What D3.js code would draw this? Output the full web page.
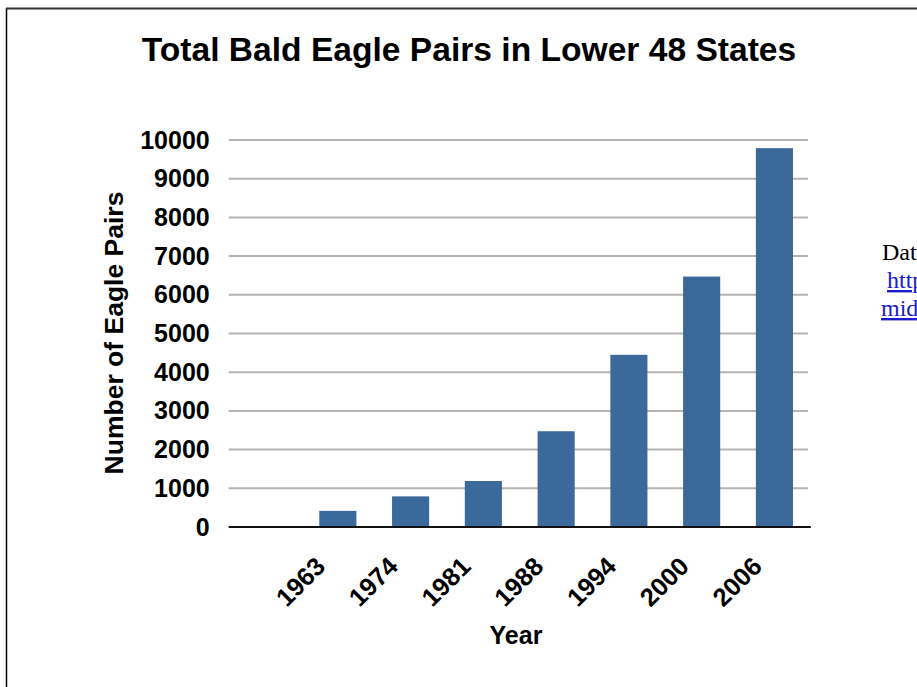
<!DOCTYPE html>
<html>
<head>
<meta charset="utf-8">
<script src="https://cdn.jsdelivr.net/npm/d3@7"></script>
<style>
  html, body { margin: 0; padding: 0; background: #fff; overflow: hidden; }
  svg { display: block; }
</style>
</head>
<body>
<svg id="chart" width="917" height="687"></svg>
<script>
// ---- data ----
// the first slot of the original chart is left empty
var years = ["", "1963", "1974", "1981", "1988", "1994", "2000", "2006"];
var pairs = [null, 417, 791, 1188, 2475, 4449, 6471, 9789];
var yTicks = [0, 1000, 2000, 3000, 4000, 5000, 6000, 7000, 8000, 9000, 10000];
var sourceLines = ["Data from:", "http://www.fws.gov/", "midwest/eagle/population/"];

var svg = d3.select("#chart");
var SANS = "'Liberation Sans', Arial, Helvetica, sans-serif";
var SERIF = "'Liberation Serif', 'Times New Roman', serif";
var BAR = "#3c699b";

// frame of the slide
svg.append("line").attr("x1", 6.5).attr("x2", 6.5).attr("y1", 8).attr("y2", 687)
  .attr("stroke", "#000").attr("stroke-width", 1.5);
svg.append("line").attr("x1", 6).attr("x2", 917).attr("y1", 8.5).attr("y2", 8.5)
  .attr("stroke", "#333").attr("stroke-width", 2);

var M = { left: 228.7, right: 810.8, top: 140, bottom: 527 };

var x = d3.scaleBand().domain(years)
  .range([M.left, M.right])
  .paddingInner(0.49).paddingOuter(0.245);
var y = d3.scaleLinear().domain([0, 10000]).range([M.bottom, M.top]);

// title
svg.append("text")
  .attr("x", 469).attr("y", 61)
  .attr("text-anchor", "middle")
  .attr("font-family", SANS).attr("font-weight", "bold").attr("font-size", 33.6)
  .attr("fill", "#000")
  .text("Total Bald Eagle Pairs in Lower 48 States");

// gridlines
svg.append("g").selectAll("line").data(yTicks.filter(function (d) { return d > 0; }))
  .enter().append("line")
  .attr("x1", M.left).attr("x2", 808)
  .attr("y1", function (d) { return y(d); })
  .attr("y2", function (d) { return y(d); })
  .attr("stroke", "#b5b5b5").attr("stroke-width", 2);

// y axis (labels only)
var yAxis = svg.append("g")
  .attr("transform", "translate(" + M.left + ",0)")
  .call(d3.axisLeft(y).tickValues(yTicks).tickFormat(d3.format("d")).tickSize(0).tickPadding(19));
yAxis.select(".domain").remove();
yAxis.selectAll("text")
  .attr("font-family", SANS).attr("font-weight", "bold").attr("font-size", 25)
  .attr("fill", "#000");

// bars
svg.append("g").selectAll("rect")
  .data(years.map(function (yr, i) { return { year: yr, v: pairs[i] }; })
    .filter(function (d) { return d.v != null; }))
  .enter().append("rect")
  .attr("x", function (d) { return x(d.year); })
  .attr("width", x.bandwidth())
  .attr("y", function (d) { return y(d.v); })
  .attr("height", function (d) { return y(0) - y(d.v); })
  .attr("fill", BAR);

// baseline
svg.append("line")
  .attr("x1", M.left).attr("x2", M.right)
  .attr("y1", y(0)).attr("y2", y(0))
  .attr("stroke", "#111").attr("stroke-width", 2);

// x tick labels, rotated
svg.append("g").selectAll("text").data(years.filter(function (d) { return d; }))
  .enter().append("text")
  .attr("transform", function (d) {
    return "translate(" + (x(d) + x.bandwidth() / 2 - 11) + "," + (y(0) + 41) + ") rotate(-45)";
  })
  .attr("text-anchor", "end")
  .attr("font-family", SANS).attr("font-weight", "bold").attr("font-size", 25.5)
  .attr("fill", "#000")
  .text(function (d) { return d; });

// axis titles
svg.append("text")
  .attr("x", 516).attr("y", 644)
  .attr("text-anchor", "middle")
  .attr("font-family", SANS).attr("font-weight", "bold").attr("font-size", 25)
  .text("Year");
svg.append("text")
  .attr("transform", "translate(123,333) rotate(-90)")
  .attr("text-anchor", "middle")
  .attr("font-family", SANS).attr("font-weight", "bold").attr("font-size", 26.5)
  .text("Number of Eagle Pairs");

// source note at the right edge (runs off the page, as in the original)
var src = svg.append("g").attr("font-family", SERIF).attr("font-size", 24);
src.append("text").attr("x", 882).attr("y", 260).attr("fill", "#000").text(sourceLines[0]);
src.append("text").attr("x", 887).attr("y", 288).attr("fill", "#1a1acc")
  .attr("text-decoration", "underline").text(sourceLines[1]);
src.append("text").attr("x", 881).attr("y", 316).attr("fill", "#1a1acc")
  .attr("text-decoration", "underline").text(sourceLines[2]);
</script>
</body>
</html>
